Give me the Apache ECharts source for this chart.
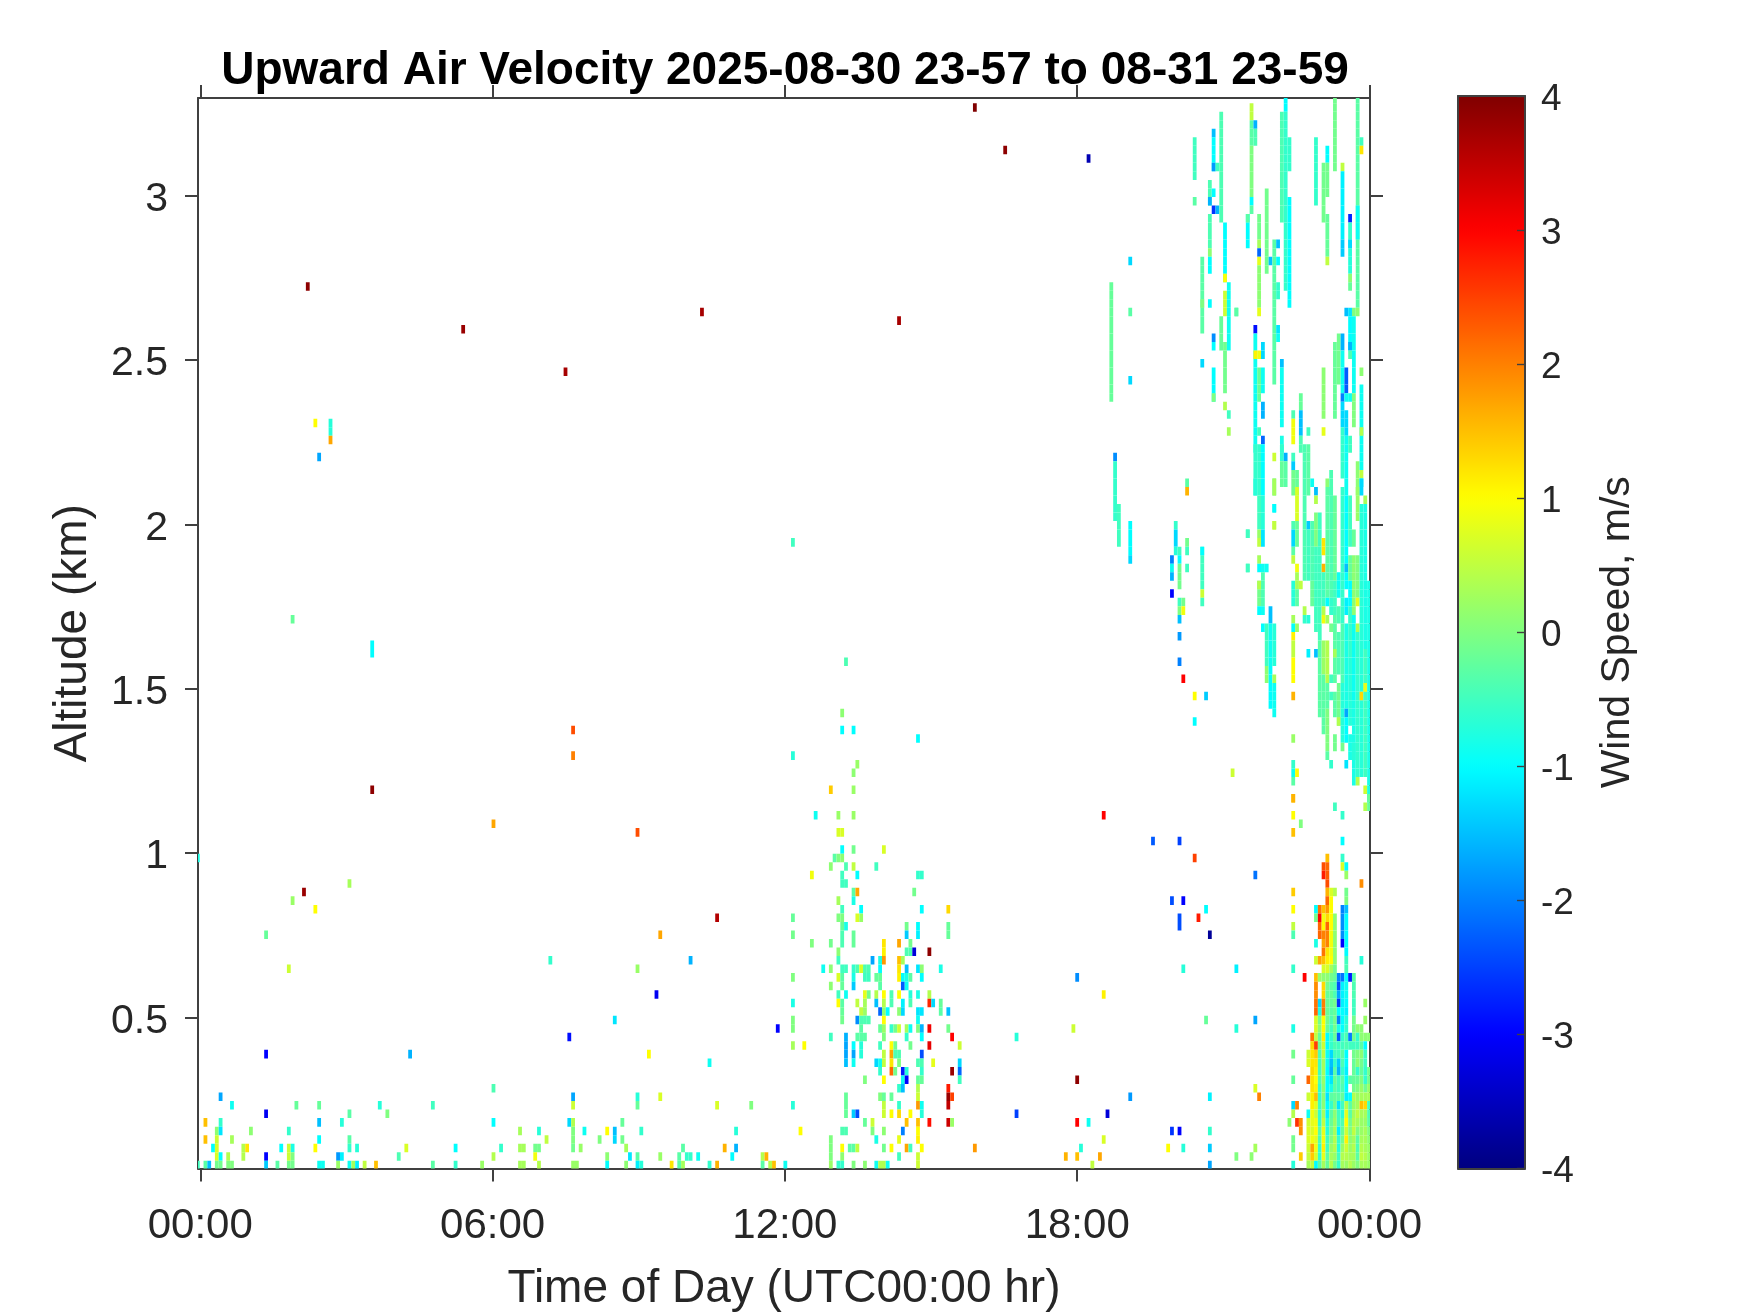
<!DOCTYPE html>
<html><head><meta charset="utf-8">
<style>html,body{margin:0;padding:0;background:#fff}#c{width:1750px;height:1313px}</style>
<script src="https://cdn.jsdelivr.net/npm/echarts@6/dist/echarts.min.js"></script>
</head><body><div id="c"></div>
<script>
// Radar bins: a time bin is about 4.67 minutes, an altitude gate about 26 m.
const timeOrigin = -0.05, timeStep = 0.0778, gateOrigin = 0.0506, gateStep = 0.02595;
const timeTicks = [0, 6, 12, 18, 24];
const timeLabels = ['00:00', '06:00', '12:00', '18:00', '00:00'];
const altTicks = [0.5, 1, 1.5, 2, 2.5, 3];
const altLabels = ['0.5', '1', '1.5', '2', '2.5', '3'];
const jet = ['#000080', '#0000ff', '#0080ff', '#00ffff', '#80ff80', '#ffff00', '#ff8000', '#ff0000', '#800000'];

// Scattered returns, one row per gate: [gate, timeBin, speed, timeBin, speed, ...]
const scatterHigh = [
 [124,205,4],[119,213,3.9],[118,235,-3.6],[103,29,3.9],[98,70,3.8],[100,133,3.7],[99,185,3.7],[93,97,3.7],
 [87,31,1],[86,35,-.7],[87,35,-.7],[85,35,1.7],[83,32,-1.7],[73,157,-.5],[64,25,-.2],[61,46,-1],[60,46,-1],[59,171,-.4],
 [51,99,2.4],[48,99,2],[44,46,3.9],[40,78,1.7],[39,116,2.4],[36,0,-.8],[33,40,.3],[32,28,3.8],[31,25,.2],[30,31,1],
 [29,137,3.6],[27,18,-.2,122,1.7],[24,93,-.6,130,-1.6],[23,24,.6,116,.2],[20,121,-3.1],[17,110,-1.2],[16,153,-3],[15,98,-2.9]
];
const scatterLow = [
 [13,18,-3,56,-1.6,119,1],[12,135,-.9],[9,78,-.4],[8,6,-1.7,99,-1.7,116,-.7,122,.7],
 [7,9,-.9,26,-.2,32,-.2,48,-.7,62,-.5,99,.6,116,-.2,137,.7,146,0],[6,18,-3.1,40,-.3,50,0],
 [5,2,1.5,6,-.6,32,-1.5,38,-.7,78,-1,98,-1.3,99,.4,112,-.2],
 [4,5,.1,6,-1.2,14,.1,24,-.6,85,.3,90,-.7,99,0,102,-.9,108,1,110,-1.5,117,-.6,142,-.7],
 [3,2,1.5,5,.6,9,.3,32,-1,40,-.3,92,.5,99,0,106,0,110,-1.3,112,-.1],
 [2,4,-1,5,.7,12,.4,13,1.2,22,-1,24,.6,25,-.8,31,1,40,-.6,42,-.7,55,.7,68,-1,80,-.6,85,.3,86,.3,89,-.1,90,-.1,99,-.1,101,.2,113,.3,128,-.3,139,1.6,142,-1.6],
 [1,5,.7,6,-1,8,.4,12,.4,18,-3,24,.6,25,0,37,-1.8,38,-1.1,53,-.4,78,.4,89,.9,108,.1,114,-1.2,116,-.3,122,.2,127,-.3,129,-.6,130,-.6,132,-.9,141,-1,149,.4,150,1.6],
 [0,0,-.5,2,-.3,3,-1.5,5,-.1,6,-.1,8,0,9,0,18,-1.4,21,-.3,24,-.1,25,-.1,32,-.9,33,-.9,37,.2,40,-.9,41,.3,42,-1.1,44,.5,47,1.5,62,-.3,68,-.6,75,.2,85,.3,86,.3,90,.4,99,.2,100,.2,108,-1,113,.1,116,-1.1,117,-.7,125,1.2,127,-.3,128,.3,135,-.6,137,1.6,149,-.3,151,.4,152,1.5,155,-.9]
];
// Afternoon cloud around 13:00-16:00
const afternoonCloud = [
 [53,170,.1],[51,170,-1,173,-1],[50,190,-1],[48,157,-.7],[47,174,.2],[46,173,.1],[44,167,1.4,173,.2],[41,163,-.9,169,.2,173,.2],
 [39,169,.7,170,.7],[37,170,-1,173,-.1,181,.7],[36,168,-.3,169,0,170,.1],[35,167,.1,171,-.4,173,.5,179,-.5],
 [34,162,.9,170,-.5,174,-1,190,-.6,191,-.6],[33,170,-.5,171,-.5],[32,173,-.3,174,1.7,189,-.1],[31,169,.3,173,-.8],
 [30,170,-.5,175,-1,191,-1,198,1.3],[29,157,-.2,169,0,170,0,174,.7,175,.2],[28,170,-.2,171,-.8,187,-.1,190,-1,198,-.2],
 [27,157,-.1,170,-.4,173,-.2,187,-1.4,190,-1.1,198,-.2],[26,162,0,167,-.1,170,-.4,173,-.2,181,1.2,185,1.7,188,-.1],
 [25,169,.1,181,1.1,187,-.4,188,-.4,189,-3.3,193,3.9],[24,169,-.5,178,-1.7,180,-.8,181,1.8,185,1.5,186,.3],
 [23,165,-.9,167,.1,170,-.5,171,-.5,173,-.6,174,-.4,175,.7,176,-.4,177,-.4,180,-1,185,1.2,187,-1.5,190,-1.2,191,.1,196,-.8],
 [22,157,0,169,.7,170,-.3,173,-.8,176,-.5,177,-.5,179,-.2,180,-.2,185,1.1,186,-1,187,-.8,188,-.3,191,-1],
 [21,167,.1,170,-.2,173,-1.4,180,-.3,186,-2.3,187,-.9],
 [20,169,-.5,171,-.9,176,.8,177,-.1,179,.4,181,1,183,-.4,185,1,188,-.7,190,-.8,193,.4],
 [19,157,-.8,169,1,170,-.3,174,.5,176,.3,179,-1.5,181,.4,183,-.4,186,-1.1,188,-.4,193,2.7,194,-1.3,196,-.2],
 [18,170,-.2,175,.5,176,.2,180,-2.2,181,.1,182,-1,185,.1,186,-1.3,190,-1.2,191,-1.2,196,-.3,198,-1.5],
 [17,157,0,170,-.1,174,-1.9,175,-.4,176,-.4,177,-.4,181,1,190,-.9],
 [16,157,0,175,-.3,180,-.2,181,.2,183,-.6,184,-.1,185,.6,187,.3,188,-.9,190,0,191,-1.6,193,3.1,198,-.1],
 [15,167,-.5,171,-1.6,174,-.3,175,-.3,176,-.3,181,0,187,-.6,191,-1,199,3],
 [14,157,.3,160,1,171,-1.7,173,-1,175,-.7,180,-.5,183,1,184,-.1,188,-.1,193,3.2,201,.6],
 [13,171,-1.7,173,-1.7,175,-.7,181,.5,183,1.7,184,-.4,185,-.4,191,-2.4],
 [12,171,-1.5,173,-.9,179,-1.3,180,-.9,181,.5,183,1.2,185,0,190,-.4,191,-.4,194,.8,201,-1.3],
 [11,180,-.6,183,2.2,184,-.1,186,-2.8,187,-.7,191,-.6,199,3.8,201,-2.2],
 [10,176,0,181,1,186,-.9,187,-3,190,-.2,191,-.2,201,-.5],
 [9,185,-.6,186,-1.5,190,.4,198,2.8],[8,171,-.2,180,0,181,-.2,183,-.2,190,.6,198,3.8,199,2.5],
 [7,157,-.7,171,-.2,181,.5,185,-.6,190,1.8,191,-.9,198,3.5],[6,171,-.2,173,-1.4,174,-2.4,181,.6,183,1,185,1.3,188,1,191,-.7],
 [5,176,-.2,178,.6,187,1.5,190,1.5,193,2.9,198,3.4,199,.2],[4,159,1,170,-.4,171,-.4,178,0,181,.1,186,-2,190,1],
 [3,167,0,179,-.8,185,.8,190,1.1],[2,167,0,170,1,172,-.3,173,-.3,174,.5,181,-.1,183,1,187,1.7,188,-.5,191,1,205,1.8],
 [1,167,0,170,.1,185,-.5,190,.6],[0,167,.2,169,-.6,170,-.6,173,0,176,.1,179,-.9,180,.4,181,.4,182,-.9,190,.6]
];
// Evening scatter between 18:00 and 22:30
const eveningScatter = [
 [41,239,3],[38,252,-2.3,259,-2.5],[36,263,2.5],[34,279,-2.1],[31,257,-2.4,260,-3],[30,266,-1],[29,259,-2.4,264,2.8],[28,259,-2.4],[27,267,-3.8],
 [23,260,-.7,274,-1.1],[22,232,-1.9],[20,239,1.1],[17,266,-.2,279,-1.7],[16,231,.6,274,-.7],[15,216,-.7],
 [10,232,3.9],[9,279,.7],[8,280,2,246,-1.8,267,-1.1],[6,216,-2.5,240,-3.3],[5,232,3,235,-.9,288,.1],[4,257,-2.6,259,-3,267,-.6],[3,239,.7],
 [2,233,-.7,256,1,260,-.7,267,-1.4,279,.3],[1,229,1.6,232,1.5,238,1.7,274,0,278,.1],[0,236,.5,267,-1.7],
 [106,246,-1.3],[100,246,-.3,274,-.3],[92,246,-1.3],[74,277,-.5],[70,277,-.5],[55,263,1,266,-1.4],[52,263,-1],[46,273,.6],
 [43,289,1.4],[41,289,1],[39,289,1.5],[32,289,1.4],[30,289,1],[28,289,.5],[27,289,-.4],[23,289,-.6],[16,289,-.8],[13,289,-.1],[10,289,-.2],[7,289,-1.3,290,2],[6,289,.4],[5,290,2.6,291,1.9],[4,291,1.9],[3,289,-.1],[2,289,-.1],[1,291,1.4],[0,289,-.7],[40,291,0],[22,292,3]
];
// Vertical streaks: [timeBin, firstGate, lastGate, speed]
const upperStreaks = [
 [241,90,103,-.2],[242,83,83,-1.9],[242,76,82,-.6],[243,73,77,-.5],[246,72,75,-1],[246,71,71,-1.3],
 [257,71,71,-2],[257,70,70,-.9],[257,69,69,-1.6],[257,67,67,-3],[258,75,75,-.6],[258,73,74,-1.3],[258,72,72,-.7],
 [259,72,72,-.5],[259,71,71,-1],[259,68,70,-.1],[259,66,66,-.5],[259,65,65,0],[259,64,64,-1.5],[259,62,62,-1.8],[259,59,59,-2],
 [260,66,66,-.1],[260,65,65,.9],[260,57,57,3],[261,80,80,-.3],[261,79,79,1.6],[261,73,73,-.1],[261,72,72,-.5],[261,70,70,-.5],
 [263,116,120,-.5],[263,113,113,-.3],[265,98,106,-.3],[265,101,101,0],[265,94,94,-1.3],[265,68,72,-.5],[265,72,72,-1],[265,67,67,.6],[265,66,66,-.5],
 [267,113,115,-.4],[267,113,113,-1.6],[267,108,111,-.4],[267,107,107,.1],[267,105,106,-1],[267,101,101,-1],
 [268,121,121,-1.5],[268,117,120,-1],[268,117,117,-1.8],[268,114,114,-1],[268,112,112,-2.6],[268,97,97,-1.9],[268,96,96,-1],[268,90,93,-1],[268,90,90,0],
 [269,117,117,-.5],[269,112,112,-1.6],[270,111,123,-.4],[270,96,99,-.2],
 [271,104,110,-1],[271,104,104,1],[271,100,102,.6],[271,91,96,-.1],[271,89,89,.4],[272,96,103,-.9],[272,88,88,-.5],[272,86,86,.3],[274,100,100,-.3],
 [277,108,111,-1],[277,111,111,-.3],
 [278,123,124,.5],[278,120,122,-.3],[278,114,119,0],[278,113,113,-1],[278,112,112,-.3],
 [279,122,122,-1.6],[279,120,121,-.4],[279,98,98,-2.9],[279,84,97,-.9],[279,95,95,1.1],[279,79,84,-.6],
 [280,109,111,-.1],[280,108,108,.3],[280,107,107,-2.2],[280,106,106,.8],[280,101,105,.1],[280,100,100,.8],[280,95,95,.9],[280,90,93,-.2],[280,86,86,-.5],[280,79,84,-.6],
 [281,95,96,-1.3],[281,91,93,-.9],[281,88,89,-1.6],[281,85,85,-2.2],[281,79,84,-1],
 [282,105,114,-.1],[283,106,106,-1.5],[284,92,108,-.3],[284,83,83,.6],[284,79,80,-.2],[284,77,77,-.9],[284,75,75,.6],
 [285,108,108,-1.5],[285,106,106,-1],[285,102,103,-.6],[285,98,98,-1.2],[285,97,97,-.9],
 [286,111,123,-.4],[286,94,94,-1.5],[286,87,93,-.9],[286,84,85,-.8],[286,83,84,-.6],[286,80,82,-.2],
 [287,124,125,-1],[287,103,123,-.6],[287,83,83,-1.6],[287,80,82,-.3],
 [288,117,120,-.6],[288,101,113,-1],
 [289,88,88,-.4],[289,85,87,.9],[289,83,83,-.5],[289,82,82,-1.4],[289,79,81,-.1],[290,79,81,-.2],
 [291,89,90,-.2],[291,86,88,-1.5],[291,84,85,-.4],[292,79,84,-.4],[293,86,86,-.5],[293,79,84,-.3],[294,80,80,-.9],
 [295,113,120,-.6],[297,111,117,-.1],[297,88,93,.1],[297,86,86,.8],[298,118,119,-1],[298,114,117,-.1],[298,107,111,-.2],[298,106,106,.5],[298,80,80,.1],
 [299,79,81,-.4],[300,117,125,-.1],[300,88,96,-.2],[301,92,97,-.1],
 [302,117,117,.5],[302,109,116,-1.1],[302,107,108,-1.4],[302,96,97,-1.6],[302,91,95,-.9],[302,90,90,-2],[302,87,89,-1.3],[302,81,86,-.6],
 [303,100,100,-1.5],[303,91,93,-2.3],[303,90,90,-.9],[303,86,88,-1.3],[303,79,85,-.9],
 [304,111,111,-2.7],[304,108,110,-.6],[304,108,108,-1.3],[304,105,107,-.7],[304,104,104,.1],[304,103,103,-.2],[304,100,100,-1.2],[304,96,99,-1],[304,96,96,-1.6],[304,95,95,-.4],[304,90,90,-.9],[304,84,85,-.5],
 [305,100,100,0],[305,91,99,-.9],[305,87,90,0],[306,101,125,-.3],[306,109,112,-.9],[306,100,100,.1],[306,79,82,.1],
 [307,120,120,-.5],[307,119,119,1.2],[307,93,93,.1],[307,82,91,-.9],[307,86,86,.4],[307,81,81,.5],[307,80,80,-1]
];
const lateNightStreaks = [
 [277,74,74,-.5],[277,70,70,-.5],[279,79,80,-.7],
 [280,75,78,-.5],[280,74,74,.2],[280,73,73,.5],[280,71,71,.3],[280,70,70,-1],[280,66,68,-.1],[280,68,68,.4],[280,65,65,-1],
 [281,75,78,-.7],[281,73,74,-1.2],[281,70,70,-.9],[281,66,69,-.4],[281,65,65,-.9],[281,63,63,-1],
 [282,70,70,-.9],[282,59,63,-.5],[282,58,58,.1],[282,57,57,.1],
 [283,64,65,-1.5],[283,59,63,-.9],[283,54,58,-1],[284,79,80,.3],[284,77,77,-1],[284,75,75,.5],[284,59,63,-.7],[284,57,57,.3],[284,53,56,-.9],
 [289,75,75,-.4],[289,74,74,-1.3],[289,73,73,-1.3],[289,72,72,-.3],[289,71,71,.5],[289,66,68,-.7],[289,64,64,.3],[289,63,63,-1],[289,62,62,1.1],[289,60,61,.5],[289,57,59,1],[289,55,55,1.6],[289,50,50,.2],[289,47,47,-.6],[289,46,46,-.9],[289,45,45,-.3],[289,43,43,1.6],
 [290,76,79,.7],[290,73,75,-.2],[290,70,70,.9],[290,68,69,.3],[290,66,67,-.3],[290,63,63,.2],[290,46,46,1],[291,68,68,.5],
 [292,69,78,-.4],[292,65,65,.4],[292,64,64,-.6],[293,75,75,-1.4],[293,69,74,-.5],[293,64,64,-.7],[293,60,60,-1.1],
 [294,69,75,-.4],[294,66,68,-.2],[295,79,79,-1.5],[295,78,78,.4],[295,73,76,0],[295,63,72,-.5],[295,60,60,-1.5],
 [296,62,76,-.5],[296,53,61,-.3],
 [297,72,73,1.2],[297,70,70,1.6],[297,66,69,-.5],[297,65,65,.4],[297,64,64,.9],[297,58,61,.2],[297,53,57,-.3],[297,51,52,-.3],
 [298,67,79,-.3],[298,66,66,-1],[298,64,64,.3],[298,57,61,.4],[298,54,56,-.3],[298,49,53,0],[298,48,48,-.3],
 [299,67,79,-.4],[299,65,66,-.6],[299,63,63,-.1],[299,57,57,-.5],[299,55,55,-.5],[299,47,47,-.6],
 [300,69,78,-.2],[300,65,68,-.5],[300,57,64,-.3],[300,60,60,.3],[300,53,55,-.3],[300,49,50,-.1],
 [301,67,69,-.9],[301,64,65,-.4],[301,58,62,-.4],[301,52,56,-.1],[301,52,52,.4],
 [302,64,79,-.6],[302,57,63,-.4],[302,50,56,-.7],[302,49,49,-.1],
 [303,71,78,-1],[303,70,70,-1.5],[303,68,69,-1],[303,65,66,-1.1],[303,54,63,-.8],[303,53,53,-1.7],[303,50,52,-1],[303,47,47,-1.2],
 [304,73,78,-.5],[304,69,71,-.2],[304,66,68,-1],[304,60,65,-.6],[304,52,59,-.7],[304,48,50,-.8],
 [305,73,74,-.2],[305,65,71,.1],[305,55,64,-.9],[305,45,54,-.8],[305,48,49,-.7],
 [306,76,79,.2],[306,67,71,0],[306,66,66,.8],[306,63,63,.4],[306,46,62,-.6],[306,45,45,.4],
 [307,79,80,-1.3],[307,46,77,-.7],[307,55,55,1.3],[308,78,78,.3],[308,61,77,-.8],[308,46,60,-.5],[308,56,56,.8],[308,44,44,.6],[309,43,68,-.8]
];
const blockTop = [
 [295,30,30,-1],[295,29,29,-.1],[295,26,26,-.8],
 [296,30,30,2.1],[296,29,29,3],[296,27,28,2.2],
 [297,35,35,2.4],[297,34,34,2.8],[297,30,30,1.5],[297,29,29,.9],[297,28,28,1],[297,27,27,2],[297,26,26,1.7],[297,25,25,2.1],
 [298,36,36,1.5],[298,35,35,2.2],[298,34,34,2.3],[298,33,33,2.4],[298,32,32,1.6],[298,31,31,2.2],[298,30,30,1.8],[298,29,29,1.3],[298,28,28,2.2],[298,26,27,2],[298,25,25,1.2],
 [299,32,32,.7],[299,28,31,1],[299,25,27,.9],
 [300,42,42,-.5],[300,32,32,.4],[300,25,29,.1],
 [302,41,41,-.6],[302,38,38,-1],[302,36,36,-.6],[302,35,35,.7],[302,30,30,-2],[302,27,29,-1.9],[302,26,26,-3],
 [303,35,35,-1],[303,34,34,.2],[303,32,32,-.1],[303,31,31,0],[303,30,30,-1.5],[303,25,29,-1],
 [307,33,33,1.9],[308,42,42,.4],[309,43,43,-.2],[309,42,42,-.2]
];
// Lowest gates, 22:50 to midnight. Rows run from gate 24 down to gate 0; columns start at blockFirstBin.
const blockFirstBin = 293, blockFirstGate = 24, n = null;
const blockRows = [
 [n,n,.6,1.7,1.5,1.1,1,.1,n,n,-.5,n,n,n,-.7,n,n],
 [n,n,n,n,.7,.7,.3,-.1,n,n,-.4,n,n,n,n,n,n],
 [n,n,1.5,.2,.1,.1,-.1,-.2,-2,-2.1,-1,-2.8,-.3,n,n,n,n],
 [n,n,1.9,n,1.3,-.1,-.3,-.4,-2.4,-1.1,-.9,n,-.4,n,n,n,n],
 [n,n,1.9,n,1.3,-.2,-.2,-.4,-1.7,-1.1,-.9,n,-.4,n,n,n,n],
 [n,n,2.1,-1.3,2,-.2,-.2,-.1,-2.6,-1.1,-1,n,-.5,n,n,.2,n],
 [n,n,2.2,-.8,2.1,-.2,-.3,-.2,-1,-1,-1.1,n,-.5,n,n,n,n],
 [n,n,.7,-.1,1,-.1,-.4,-.1,-2,-1,-.7,n,-.1,n,n,.2,n],
 [n,n,.7,.1,1,-.2,-.5,-.1,-.8,-1,-.6,n,-.1,.1,.1,n,n],
 [n,2.1,.5,-.2,1.1,-1,-.6,-.2,-2.3,-.6,-.4,-2,-.1,-.6,.1,.1,.1],
 [n,1.3,2.5,-.1,.6,-1,-.6,-.4,-.5,-.5,-.4,-.5,-.5,-.5,-.3,-1,n],
 [.6,1.2,1.4,-.4,.5,-.9,-1.3,-.5,-.5,-.3,-1,n,-.1,0,.1,-.5,n],
 [.7,1.2,1.2,-.5,.3,-.9,-1.5,-.6,-1.4,-.4,-1,n,-.2,.1,-.1,-.5,n],
 [n,1.3,1.1,-.5,.3,-1,-1.6,-.3,-1.6,-.6,-1.1,n,-.2,-.6,-.2,-.6,-.1],
 [2.2,1.2,1,-.4,.2,-1,-1.2,-.2,-.5,-.3,-1,-.3,-.2,-.2,0,-.6,-.1],
 [n,1.2,1.1,-.6,.1,-1,-.8,-.3,-.5,-.4,-1,n,-.1,0,.2,-.1,.2],
 [.6,1.1,1.5,-.6,.1,-1.2,-.3,-.2,-.3,-.2,-1.1,-1,.4,.2,.3,.3,.3],
 [n,1.1,.8,-.5,.1,-1,-.6,-.1,-1.2,-.5,.4,-.3,.2,.3,1.5,1.3,-.5],
 [-.9,.9,.6,-.6,.3,-1.1,-.3,.1,-.5,-.7,.8,-.3,.3,.5,.3,.3,-.4],
 [.6,.8,.9,-.6,.5,-.8,-.2,.2,-.5,-.4,1,-.1,.4,.3,.2,.2,-.3],
 [.7,.7,1,-.3,.8,-.7,-.1,.3,-1.1,-.2,.6,0,.5,0,.2,.3,0],
 [.7,.9,.8,-.4,.9,-.5,0,.4,-.6,-.1,1.1,.1,.3,-.3,.3,.3,.1],
 [.6,1.7,.9,-.6,1.1,-.5,.2,.4,-.7,.2,.6,.2,.4,-.4,.4,.3,.2],
 [.5,1.4,.7,-.6,.8,-.3,.3,.2,-.5,.4,.4,.3,.3,-.3,.5,.4,.2],
 [.3,.5,-1,-.3,.3,-.2,.4,-.1,-.6,.3,.2,.4,.2,0,.3,.3,.2]
];

const cells = [];
const put = (bin, gate, v) => cells.push([timeOrigin + bin * timeStep, gateOrigin + gate * gateStep, v]);
[scatterHigh, scatterLow, afternoonCloud, eveningScatter].forEach(list => list.forEach(r => {
  for (let i = 1; i < r.length; i += 2) put(r[i], r[0], r[i + 1]);
}));
[upperStreaks, lateNightStreaks, blockTop].forEach(list => list.forEach(s => {
  for (let g = s[1]; g <= s[2]; g++) put(s[0], g, s[3]);
}));
blockRows.forEach((row, i) => row.forEach((v, j) => {
  if (v !== null) put(blockFirstBin + j, blockFirstGate - i, v);
}));

const ink = '#262626', font = 'Liberation Sans';
const line = {show: true, onZero: false, lineStyle: {color: '#404040', width: 2}};
const tick = {show: true, length: 13, lineStyle: {color: '#404040', width: 2}};
const noSplit = {show: false};
const G = {left: 198, right: 380, top: 98, bottom: 144.5};
const B = {left: 1458, width: 67, top: 96, bottom: 144.5};

const chart = echarts.init(document.getElementById('c'), null, {renderer: 'canvas'});
chart.setOption({
  animation: false, backgroundColor: '#fff',
  title: {text: 'Upward Air Velocity 2025-08-30 23-57 to 08-31 23-59', left: 780, top: 43, textAlign: 'center',
    textStyle: {fontFamily: font, fontWeight: 'bold', fontSize: 46, color: '#000'}},
  grid: [
    {left: G.left, right: G.right, top: G.top, bottom: G.bottom, show: false, outerBoundsMode: 'none'},
    {left: B.left, width: B.width, top: B.top, bottom: B.bottom, show: false, outerBoundsMode: 'none'}
  ],
  xAxis: [
    {type: 'value', gridIndex: 0, position: 'bottom', min: -0.047, max: 24.01, axisLine: line, splitLine: noSplit,
     axisTick: {...tick, customValues: timeTicks},
     axisLabel: {customValues: timeTicks, margin: 37, color: ink, fontFamily: font, fontSize: 42,
       formatter: v => timeLabels[timeTicks.indexOf(v)]},
     name: 'Time of Day (UTC00:00 hr)', nameLocation: 'middle', nameGap: 98,
     nameTextStyle: {color: ink, fontFamily: font, fontSize: 46}},
    {type: 'value', gridIndex: 0, position: 'top', min: -0.047, max: 24.01, axisLine: line, splitLine: noSplit,
     axisTick: {...tick, customValues: timeTicks}, axisLabel: {show: false}},
    {type: 'value', gridIndex: 1, position: 'bottom', min: 0, max: 1, z: 10, axisLine: line, axisTick: {show: false}, axisLabel: {show: false}, splitLine: noSplit},
    {type: 'value', gridIndex: 1, position: 'top', min: 0, max: 1, z: 10, axisLine: line, axisTick: {show: false}, axisLabel: {show: false}, splitLine: noSplit}
  ],
  yAxis: [
    {type: 'value', gridIndex: 0, position: 'left', min: 0.04, max: 3.297, axisLine: line, splitLine: noSplit,
     axisTick: {...tick, customValues: altTicks},
     axisLabel: {customValues: altTicks, margin: 30, color: ink, fontFamily: font, fontSize: 41, verticalAlign: 'top', lineHeight: 8,
       formatter: v => altLabels[altTicks.indexOf(v)]},
     name: 'Altitude (km)', nameLocation: 'middle', nameGap: 102, nameRotate: 90,
     nameTextStyle: {color: ink, fontFamily: font, fontSize: 46}},
    {type: 'value', gridIndex: 0, position: 'right', min: 0.04, max: 3.297, axisLine: line, splitLine: noSplit,
     axisTick: {...tick, customValues: altTicks}, axisLabel: {show: false}},
    {type: 'value', gridIndex: 1, position: 'left', min: -4, max: 4, interval: 1, z: 10, axisLine: line, axisTick: {show: false}, axisLabel: {show: false}, splitLine: noSplit},
    {type: 'value', gridIndex: 1, position: 'right', min: -4, max: 4, interval: 1, z: 10, axisLine: line,
     axisTick: {show: true, inside: true, length: 8, lineStyle: {color: '#404040', width: 1.4}}, splitLine: noSplit,
     axisLabel: {margin: 16, color: ink, fontFamily: font, fontSize: 37, verticalAlign: 'top', lineHeight: 7},
     name: 'Wind Speed, m/s', nameLocation: 'middle', nameGap: 72, nameRotate: 90,
     nameTextStyle: {color: ink, fontFamily: font, fontSize: 41}}
  ],
  visualMap: {type: 'continuous', seriesIndex: 0, dimension: 2, min: -4, max: 4, calculable: false, hoverLink: false,
    left: B.left, top: B.top, padding: 0, itemWidth: B.width, itemHeight: 1313 - B.top - B.bottom, text: ['', ''], showLabel: false,
    inRange: {color: jet}, z: 4},
  series: [{
    type: 'custom', xAxisIndex: 0, yAxisIndex: 0, coordinateSystem: 'cartesian2d', clip: true, silent: true,
    data: cells, encode: {x: 0, y: 1},
    renderItem: (params, api) => {
      const c = api.coord([api.value(0), api.value(1)]);
      const s = api.size([timeStep, gateStep]);
      return {type: 'rect', shape: {x: c[0] - s[0] / 2, y: c[1] - s[1] / 2, width: s[0], height: s[1]},
        style: {fill: api.visual('color')}};
    }
  }]
});
</script></body></html>
